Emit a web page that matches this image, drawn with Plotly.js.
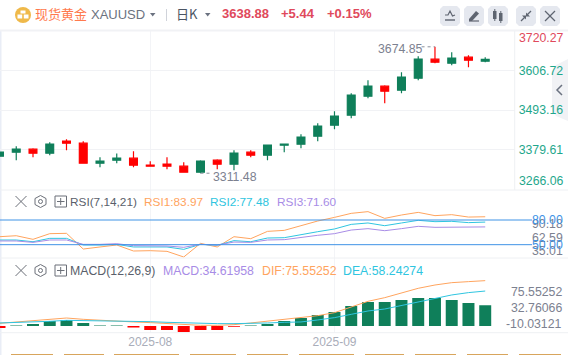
<!DOCTYPE html>
<html>
<head>
<meta charset="utf-8">
<script src="https://cdn.plot.ly/plotly-3.0.1.min.js"></script>
<style>html,body{margin:0;padding:0;background:#fff;overflow:hidden}#chart{width:568px;height:355px}</style>
</head>
<body>
<div id="chart"></div>
<script>
const barIndex = [0,1,2,3,4,5,6,7,8,9,10,11,12,13,14,15,16,17,18,19,20,21,22,23,24,25,26,27,28,29];
const open  = [3360.4,3371.9,3380.6,3369.1,3403.6,3397.8,3340.3,3348.9,3354.7,3334.6,3337.4,3331.7,3314.4,3348.9,3337.4,3371.9,3363.3,3392.1,3394.9,3417.9,3449.6,3478.3,3532.9,3561.7,3550.2,3584.7,3639.3,3627.8,3645.0,3633.44];
const high  = [3373.9,3389.2,3383.4,3400.7,3409.3,3403.6,3357.6,3368.1,3374.8,3346.1,3357.6,3343.2,3348.9,3351.8,3377.7,3377.7,3392.1,3396.9,3423.7,3455.3,3489.8,3541.6,3578.9,3564.6,3601.9,3647.9,3674.85,3659.4,3650.8,3645.0];
const low   = [3358.5,3348.9,3357.6,3363.3,3377.7,3340.3,3328.8,3340.3,3328.8,3331.7,3323.1,3314.4,3311.48,3323.1,3320.2,3357.6,3348.9,3371.9,3383.4,3403.6,3438.1,3469.7,3527.2,3512.8,3541.6,3578.9,3627.8,3622.1,3616.3,3630.5];
const close = [3371.9,3380.6,3369.1,3394.9,3397.8,3340.3,3346.1,3354.7,3334.6,3331.7,3331.7,3314.4,3346.1,3337.4,3369.1,3363.3,3392.1,3394.9,3415.1,3446.7,3475.4,3535.8,3561.7,3547.3,3587.6,3639.3,3630.7,3642.2,3636.4,3638.88];
const rsi1 = [59.7,60.9,56.5,63.4,63.8,44.7,47.2,49.6,42.3,42.7,41.9,35.01,51.6,47.2,59.7,57.3,66.2,67.4,73.1,78.8,83.2,88.1,90.18,82.0,86.1,89.3,85.3,86.5,83.6,83.97];
const rsi2 = [55.7,55.7,53.6,57.7,57.7,49.6,49.6,50.4,47.2,47.6,47.2,44.3,50.4,49.2,54.9,53.6,58.1,58.5,62.6,65.8,69.1,74.7,76.4,73.1,76.4,79.6,78.0,78.4,76.8,77.48];
const rsi3 = [54.5,54.5,52.8,55.7,55.7,50.4,50.4,51.2,48.8,48.8,48.4,46.8,50.4,49.6,53.2,52.8,55.7,56.1,58.9,61.4,63.4,67.8,69.5,67.0,69.5,72.3,71.1,71.5,71.1,71.60];
const macdBars = [-3.3,1,3.3,8.3,10,5,0.8,0.8,-2.5,-6.7,-6.7,-10.03,-6.7,-6.7,-1.2,1,3.3,8.3,13.3,18.3,23.3,33.3,40,40,43.3,46.7,46.7,43.3,38.3,34.62];
const dif = [4.4,6.7,7.8,10.6,13.3,11.1,9.4,8.3,6.7,5.6,3.9,2.8,1.1,1.1,2.2,5,8.3,10.6,13.9,17.2,22.2,31.7,41.1,47.2,55,62.8,68.3,72.2,73.9,75.55];
const dea = [5,5.6,6.7,7.8,9.4,8.9,8.9,8.9,7.8,7.2,6.1,5,4.4,3.9,3.9,3.9,5,6.1,6.7,10,13.9,19.4,25,28.3,33.9,40.6,46.1,51.7,55.6,58.24];
const priceTicks = [3606.72,3493.16,3379.61];
const priceTickText = ['3606.72','3493.16','3379.61'];
const monthTicks = [9,20];
const monthText = ['2025-08','2025-09'];

const UP='#0f7f5a', DOWN='#ff0000', ORG='#ffa45e', CYAN='#2fc5e0', PUR='#a88ce6', BLUE='#3f93e6';
const W=568,H=355,FONT='"Liberation Sans", Arial, sans-serif';
const PX=x=>x/W, PY=y=>1-y/H;
const DOM_R=514.7/W;

const traces=[
 {type:'candlestick',x:barIndex,open,high,low,close,xaxis:'x',yaxis:'y',whiskerwidth:0,
  increasing:{line:{color:UP,width:1.2},fillcolor:UP},decreasing:{line:{color:DOWN,width:1.2},fillcolor:DOWN},hoverinfo:'skip'},
 {type:'scatter',mode:'lines',x:barIndex,y:rsi1,xaxis:'x',yaxis:'y2',line:{color:ORG,width:1},hoverinfo:'skip'},
 {type:'scatter',mode:'lines',x:barIndex,y:rsi2,xaxis:'x',yaxis:'y2',line:{color:CYAN,width:1},hoverinfo:'skip'},
 {type:'scatter',mode:'lines',x:barIndex,y:rsi3,xaxis:'x',yaxis:'y2',line:{color:PUR,width:1},hoverinfo:'skip'},
 {type:'bar',x:barIndex,y:macdBars,xaxis:'x',yaxis:'y3',width:0.715,
  marker:{color:macdBars.map(v=>v>=0?UP:DOWN),line:{width:0}},hoverinfo:'skip'},
 {type:'scatter',mode:'lines',x:barIndex,y:dif,xaxis:'x',yaxis:'y3',line:{color:ORG,width:1},hoverinfo:'skip'},
 {type:'scatter',mode:'lines',x:barIndex,y:dea,xaxis:'x',yaxis:'y3',line:{color:CYAN,width:1},hoverinfo:'skip'}
];

const shapes=[];
function pxLine(x0,y0,x1,y1,color,width,dash){
  shapes.push({type:'line',xref:'paper',yref:'paper',x0:PX(x0),y0:PY(y0),x1:PX(x1),y1:PY(y1),line:{color,width:width||1,dash:dash||'solid'},layer:'above'});
}
function pxPath(cmds,opt){
  const parts=cmds.map(c=>c.length===1?c[0]:c[0]+' '+PX(c[1])+' '+PY(c[2]));
  shapes.push(Object.assign({type:'path',xref:'paper',yref:'paper',path:parts.join(' '),line:{width:0}},opt));
}
function pxRect(x0,y0,x1,y1,fill,layer){
  shapes.push({type:'rect',xref:'paper',yref:'paper',x0:PX(x0),y0:PY(y0),x1:PX(x1),y1:PY(y1),fillcolor:fill,line:{width:0},layer:layer||'above'});
}
function rrect(x0,y0,x1,y1,r,fill){
  pxPath([['M',x0+r,y0],['L',x1-r,y0],['L',x1,y0+r],['L',x1,y1-r],['L',x1-r,y1],['L',x0+r,y1],['L',x0,y1-r],['L',x0,y0+r],['Z']],{fillcolor:fill,layer:'above'});
}
function circle(cx,cy,r,fill,lineColor,lw){
  shapes.push({type:'circle',xref:'paper',yref:'paper',x0:PX(cx-r),x1:PX(cx+r),y0:PY(cy-r),y1:PY(cy+r),fillcolor:fill,line:{color:lineColor||fill,width:lw||0},layer:'above'});
}
// panel frames
pxRect(0,31,1.5,355,'#e9edf6','below');
pxLine(0,30.5,568,30.5,'#f1f2f5',2);
pxLine(514.7,31,514.7,190,'#eef0f3',1);
pxLine(0,190,568,190,'#eef0f3',1);
pxLine(0,258,568,258,'#eef0f3',1);
pxLine(0,332.7,568,332.7,'#eef0f3',1);
// RSI reference lines
[80,50].forEach(v=>shapes.push({type:'line',xref:'paper',yref:'y2',x0:0,x1:PX(532),y0:v,y1:v,line:{color:BLUE,width:1},layer:'above'}));
// extreme leaders
shapes.push({type:'line',xref:'x',yref:'y',x0:12,x1:12.65,y0:3311.48,y1:3311.48,line:{color:'#8a8f9c',width:1,dash:'dot'},layer:'above'});
shapes.push({type:'line',xref:'x',yref:'y',x0:25.2,x1:26,y0:3674.85,y1:3674.85,line:{color:'#8a8f9c',width:1,dash:'dot'},layer:'above'});
// right collapse tab
pxPath([['M',568,59],['L',556,65],['L',552,72],['L',552,110],['L',556,116],['L',568,121],['Z']],{fillcolor:'#f1f2f5',layer:'below'});
pxPath([['M',562,85],['L',557,90],['L',562,95]],{line:{color:'#6b7280',width:1.5},fillcolor:'rgba(0,0,0,0)',layer:'above'});
// coin icon
circle(23,15,8,'#efb94a');
pxRect(20.5,10.5,25.5,13.5,'#ffffff');
pxRect(17.5,14.5,22.2,18.5,'#ffffff');
pxRect(23.8,14.5,28.5,18.5,'#ffffff');
// caret, separator
pxPath([['M',150,13],['L',155.5,13],['L',152.7,16.5],['Z']],{fillcolor:'#6b7280',layer:'above'});
pxLine(166.5,9,166.5,21,'#d0d3da',1);
pxPath([['M',205,13],['L',210.5,13],['L',207.7,16.5],['Z']],{fillcolor:'#6b7280',layer:'above'});
// toolbar buttons
[[440,460],[464,484],[488,508],[516,536],[540,560]].forEach(b=>rrect(b[0],6,b[1],26,3,'#e5e8ef'));
const ic='#5f6571';
pxPath([['M',445,15],['L',448,15],['L',450,11],['L',452.5,16],['L',455,15]],{line:{color:ic,width:1.2},fillcolor:'rgba(0,0,0,0)',layer:'above'});
pxLine(445,20,455,20,ic,1.4);
pxPath([['M',469,19],['L',476,11],['L',479,13.5],['L',472,21],['L',469,21],['Z']],{fillcolor:ic,layer:'above'});
pxLine(469,21,479,21,ic,1.2);
pxRect(493,11,496.5,19,ic); pxLine(494.8,9,494.8,21,ic,1);
pxRect(499,13,502.5,21,ic); pxLine(500.8,11,500.8,23,ic,1);
pxLine(521,21,525,17,ic,1.3);pxLine(531,11,527,15,ic,1.3);
pxPath([['M',522,15.5],['L',526,15.5],['L',526,19.5],['Z']],{fillcolor:ic,layer:'above'});
pxPath([['M',530,16.5],['L',526,16.5],['L',526,12.5],['Z']],{fillcolor:ic,layer:'above'});
pxLine(545,11,555,21,ic,1.2);pxLine(555,11,545,21,ic,1.2);
// indicator header icons
[[201.5],[270.5]].forEach(r=>{
  const c=r[0], g='#6b6f78';
  pxLine(15.5,c-5.5,26.5,c+5.5,g,1); pxLine(26.5,c-5.5,15.5,c+5.5,g,1);
  pxPath([['M',40.5,c-6],['L',46,c-3],['L',46,c+3],['L',40.5,c+6],['L',35,c+3],['L',35,c-3],['Z']],{line:{color:g,width:1},fillcolor:'rgba(0,0,0,0)',layer:'above'});
  circle(40.5,c,2,'rgba(0,0,0,0)',g,1);
  shapes.push({type:'rect',xref:'paper',yref:'paper',x0:PX(55),x1:PX(66.5),y0:PY(c-5.5),y1:PY(c+5.5),fillcolor:'rgba(0,0,0,0)',line:{color:g,width:1},layer:'above'});
  pxLine(60.7,c-3.5,60.7,c+3.5,g,1); pxLine(57,c,64.5,c,g,1);
});
// bottom strip
[[11,53],[64,104],[114,179],[190,236],[247,288],[299,354],[365,404],[415,456],[467,508],[519,561]].forEach(s=>pxRect(s[0],354,s[1],355,'#d8a55c'));

const FS=12.3, FS_RSI=11.8;
function note(text,x,y,color,opt){
  return Object.assign({xref:'paper',yref:'paper',x:PX(x),y:PY(y),text,showarrow:false,xanchor:'left',yanchor:'middle',
    font:{family:FONT,size:FS,color},borderpad:0,borderwidth:0,align:'left'},opt||{});
}
const small=c=>({font:{family:FONT,size:FS_RSI,color:c}});
const CJK='"Noto Sans CJK SC", "Liberation Sans", sans-serif';
const annotations=[
 note('现货黄金',35,14,'#ff7a4d',{font:{family:CJK,size:13,color:'#ff7a4d'}}),
 note('XAUUSD',91,15,'#6b7280',{font:{family:FONT,size:13,color:'#6b7280'}}),
 note('日K',176,13.5,'#4b5563',{font:{family:CJK,size:13,color:'#4b5563'}}),
 note('<b>3638.88</b>',221.5,13.5,'#e0495c',{font:{family:FONT,size:13,color:'#e0495c'}}),
 note('<b>+5.44</b>',281,13.5,'#e0495c',{font:{family:FONT,size:13,color:'#e0495c'}}),
 note('<b>+0.15%</b>',327,13.5,'#e0495c',{font:{family:FONT,size:13,color:'#e0495c'}}),
 note('3720.27',518.7,38.5,'#e0495c'),
 note('3266.06',518.7,181,'#1fa78c'),
 {xref:'x',yref:'y',x:12,y:3311.48,xshift:11,yshift:-3.5,text:'3311.48',showarrow:false,xanchor:'left',yanchor:'middle',font:{family:FONT,size:FS,color:'#7c8190'}},
 {xref:'x',yref:'y',x:26,y:3674.85,xshift:-10,yshift:-2,text:'3674.85',showarrow:false,xanchor:'right',yanchor:'middle',font:{family:FONT,size:FS,color:'#7c8190'}},
 note('RSI(7,14,21)',69.5,201.7,'#5a5f6b',small('#5a5f6b')),
 note('RSI1:83.97',143.5,201.7,ORG,small(ORG)),
 note('RSI2:77.48',210,201.7,CYAN,small(CYAN)),
 note('RSI3:71.60',277,201.7,PUR,small(PUR)),
 note('MACD(12,26,9)',69.5,270.7,'#5a5f6b'),
 note('MACD:34.61958',162.5,270.7,PUR),
 note('DIF:75.55252',262,270.7,ORG),
 note('DEA:58.24274',343.3,270.7,CYAN),
 note('90.18',531.5,224,'#7c8190'),
 note('62.59',531.5,237.5,'#7c8190'),
 note('35.01',531.5,251,'#7c8190'),
 note('80.00',531.5,220,BLUE),
 note('50.00',531.5,245,BLUE),
 note('75.55252',562,292,'#7c8190',{xanchor:'right'}),
 note('32.76066',562,307.7,'#7c8190',{xanchor:'right'}),
 note('-10.03121',562,324,'#7c8190',{xanchor:'right'})
];

const layout={
 width:W,height:H,margin:{l:0,r:0,t:0,b:0,pad:0},paper_bgcolor:'#fff',plot_bgcolor:'rgba(0,0,0,0)',
 showlegend:false,boxgap:0.33,barmode:'overlay',dragmode:false,
 xaxis:{domain:[0,DOM_R],range:[0.03,30.76],anchor:'y3',tickmode:'array',tickvals:monthTicks,ticktext:monthText,
   showgrid:true,gridcolor:'#f3f4f7',gridwidth:1,zeroline:false,showline:false,ticks:'',rangeslider:{visible:false},
   tickfont:{family:FONT,size:12,color:'#a9adb9'},fixedrange:true},
 yaxis:{domain:[PY(190),PY(31)],range:[3263.2,3720.3],side:'right',anchor:'x',tickmode:'array',tickvals:priceTicks,ticktext:priceTickText,
   showgrid:true,gridcolor:'#f1f2f5',gridwidth:1,zeroline:false,showline:false,ticks:'',ticklabelstandoff:3,
   tickfont:{family:FONT,size:FS,color:'#1fa78c'},fixedrange:true},
 yaxis2:{domain:[PY(258),PY(190)],range:[33.8,116.5],anchor:'x',showticklabels:false,showgrid:false,zeroline:false,ticks:'',fixedrange:true},
 yaxis3:{domain:[PY(332.7),PY(258)],range:[-11.2,113.3],anchor:'x',showticklabels:false,showgrid:false,zeroline:false,ticks:'',fixedrange:true},
 shapes,annotations
};
Plotly.newPlot('chart',traces,layout,{staticPlot:true,displayModeBar:false});
</script>
</body>
</html>
